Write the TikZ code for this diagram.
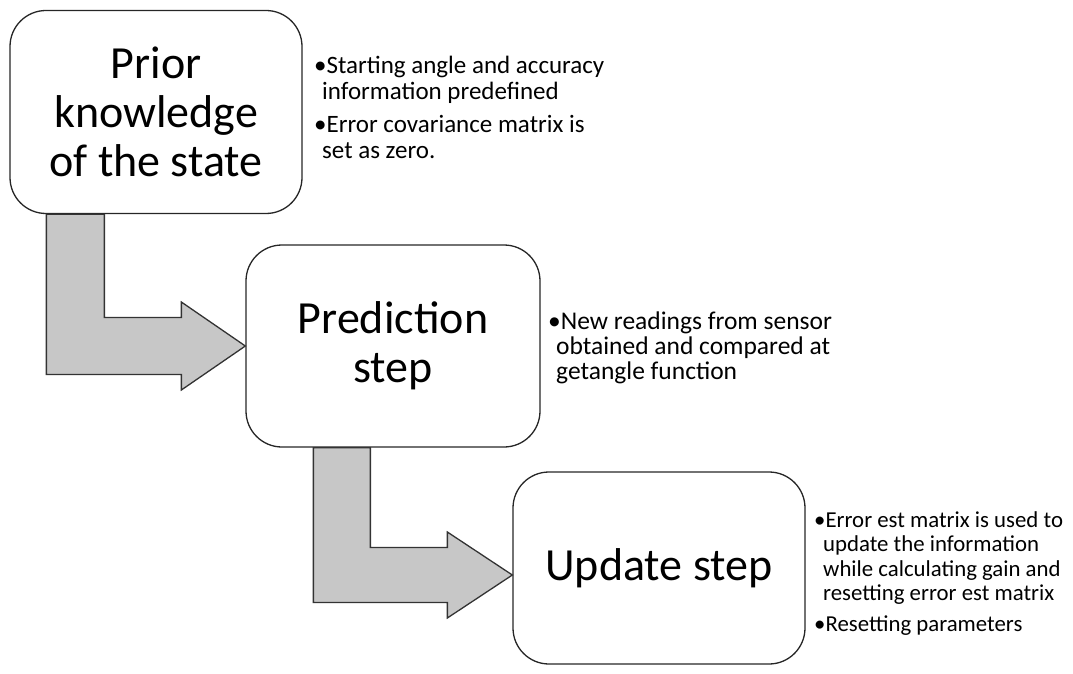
\documentclass[tikz,border=0pt]{standalone}
\usepackage{fontspec}
\setmainfont{Carlito}
\usetikzlibrary{calc, positioning}

\begin{document}
\begin{tikzpicture}[x=1pt, y=-1pt,
    stage/.style={draw=black!85, rounded corners=36pt, line width=1.3pt, minimum width=292pt, minimum height=203pt, align=center, font=\fontsize{46}{49}\selectfont},
    note/.style={anchor=north west, align=left, inner sep=0pt, font=\fontsize{25}{26}\selectfont},
    bent/.style={draw=black!80, fill=black!22, line width=1.3pt}]
      \useasboundingbox (0,0) rectangle (1073,674);

      \node[stage] (prior) at (156,112) {Prior\\knowledge\\of the state};
      \node[stage, minimum width=294pt, minimum height=202pt] (predict) at (393,346) {Prediction\\step};
      \node[stage, minimum height=192pt] (update) at (659,568) {Update step};

      \node[note] (n1) at (314,56) {\textbullet Starting angle and accuracy\\\hspace{8pt}information predefined\\[7pt]\textbullet Error covariance matrix is\\\hspace{8pt}set as zero.};
      \node[note, font=\fontsize{25.5}{25}\selectfont] (n2) at (548,312) {\textbullet New readings from sensor\\\hspace{8pt}obtained and compared at\\\hspace{8pt}getangle function};
      \node[note, font=\fontsize{22.8}{24.5}\selectfont] (n3) at (814,511) {\textbullet Error est matrix is used to\\\hspace{9pt}update the information\\\hspace{9pt}while calculating gain and\\\hspace{9pt}resetting error est matrix\\[6pt]\textbullet Resetting parameters};

      \coordinate (t1) at (predict.west);
      \coordinate (t2) at ($(update.west)+(0,7)$);

      \draw[bent] ($(prior.south west)+(37,0)$) -- ($(prior.south west)+(95,0)$) |- ($(t1)+(-64,-28.5)$) -- ++(0,-15.5) -- (t1) -- ++(-64,44) -- ++(0,-15.5) -| ($(prior.south west)+(37,0)$) -- cycle;
      \draw[bent] ($(predict.south west)+(68,0)$) -- ($(predict.south west)+(125,0)$) |- ($(t2)+(-65,-27.5)$) -- ++(0,-15.5) -- (t2) -- ++(-65,43) -- ++(0,-15.5) -| ($(predict.south west)+(68,0)$) -- cycle;
    \end{tikzpicture}
\end{document}
